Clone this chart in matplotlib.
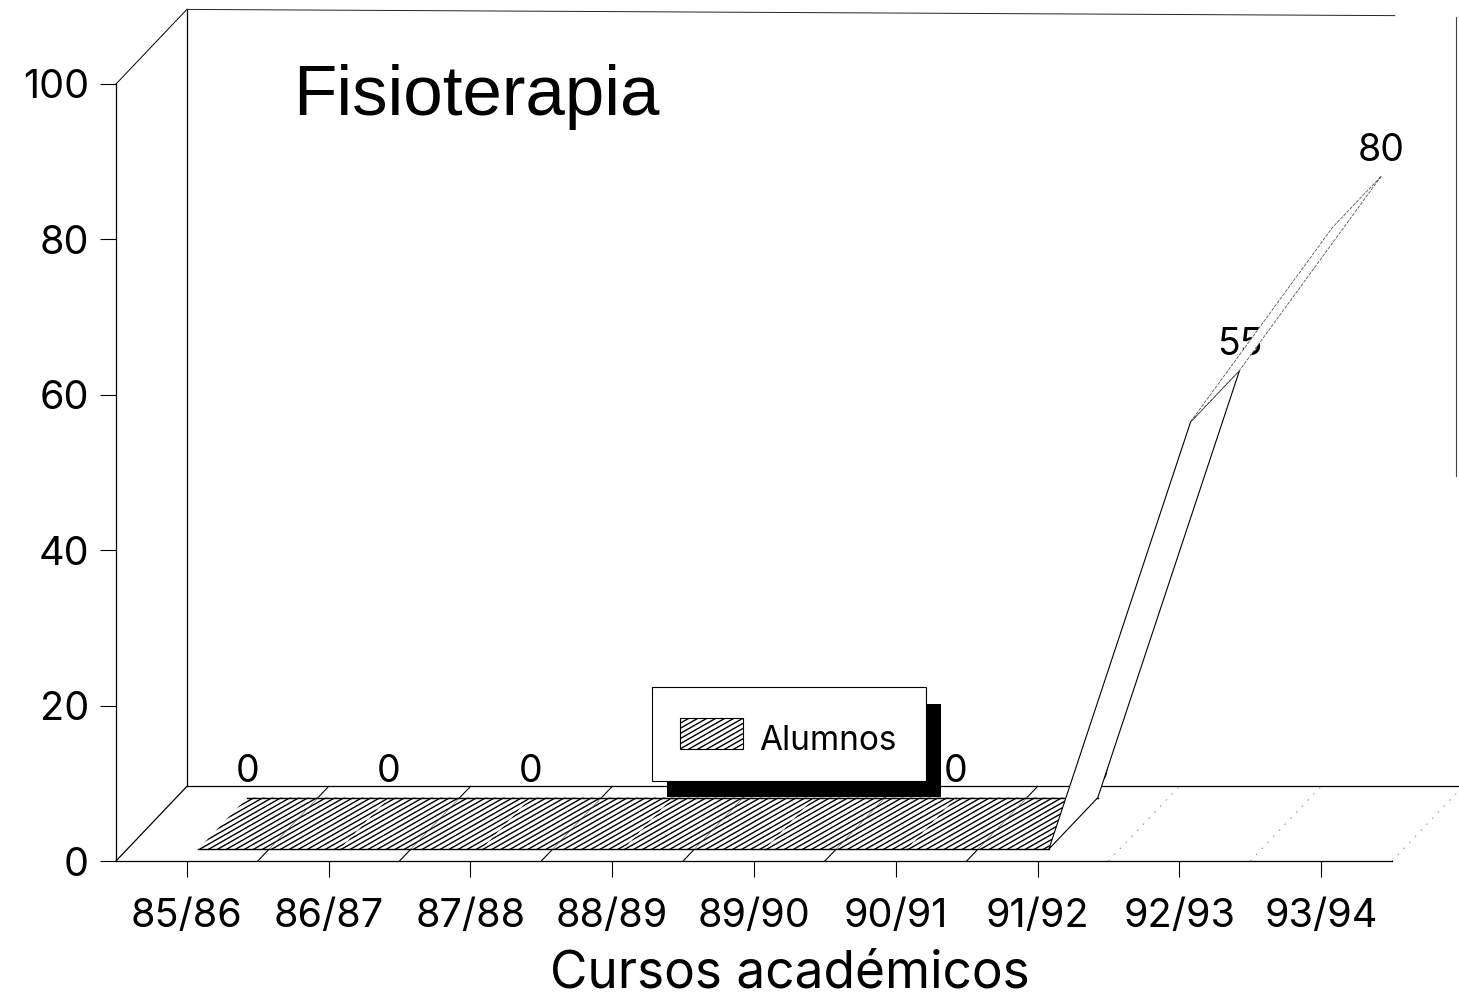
import numpy as np
import matplotlib
matplotlib.use("Agg")
import matplotlib.pyplot as plt
from matplotlib.collections import LineCollection
from matplotlib.patches import Polygon, Rectangle
from matplotlib.transforms import Affine2D, IdentityTransform

# values
cursos = ["85/86", "86/87", "87/88", "88/89", "89/90", "90/91", "91/92", "92/93", "93/94"]
alumnos = [0, 0, 0, 0, 0, 0, 0, 55, 80]
y_ticks = [0, 20, 40, 60, 80, 100]

W, H = 1459, 1001
plt.rcParams["font.family"] = ["Inter", "DejaVu Sans"]
fig = plt.figure(figsize=(W / 100, H / 100), dpi=100)
ax = fig.add_axes([116 / W, 1 - 861 / H, 1276 / W, 777 / H])
ax.set_xlim(0, 9)
ax.set_ylim(0, 100)
ax.patch.set_visible(False)

centres = np.arange(len(cursos)) + 0.5
ax.set_xticks(centres, cursos)
ax.set_yticks(y_ticks)
ax.tick_params(axis="x", length=11.5, width=0.8, pad=15, labelsize=28.5)
ax.tick_params(axis="y", length=11.5, width=0.8, pad=8, labelsize=28.5)
for s in ["top", "right"]:
    ax.spines[s].set_visible(False)
for s in ["left", "bottom"]:
    ax.spines[s].set_linewidth(0.9)
ax.set_xlabel("Cursos académicos", fontsize=37, va="baseline")
ax.xaxis.set_label_coords(0.528, -127 / 777)

# oblique depth of the fake 3d box, in data units
DX = 0.5
DY = 9.6


def oblique(x, y, d):
    return x + DX * d, y + DY * d


px = Affine2D().scale(1, -1).translate(0, H)  # picture pixels, y going down


def hatch(patch, step=9.0, slope=0.57, z=3):
    # shallow hatching, matplotlib's own hatch is fixed at 45 degrees
    verts = patch.get_transform().transform(patch.get_path().vertices)
    x0, y0 = verts.min(axis=0)
    x1, y1 = verts.max(axis=0)
    segs = []
    for off in np.arange(y0 - slope * (x1 - x0), y1 + step * slope, step * slope):
        segs.append([(x0, off), (x1, off + slope * (x1 - x0))])
    lc = LineCollection(segs, colors="black", linewidths=1.0, transform=IdentityTransform(), zorder=z)
    ax.add_collection(lc, autolim=False)
    lc.set_clip_path(patch)
    return lc


def line(p, q, **kw):
    kw.setdefault("color", "black")
    kw.setdefault("lw", 0.9)
    kw.setdefault("zorder", 1)
    ax.plot(*zip(p, q), clip_on=False, **kw)


# walls and floor, the scanned top line droops a little to the right
line(oblique(0, 0, 0), oblique(0, 0, 1))
line(oblique(0, 100, 0), oblique(0, 100, 1), lw=0.7)
line(oblique(0, 0, 1), oblique(0, 100, 1))
line(oblique(0, 100, 1), oblique(8.52, 99.2, 1), color="#222222", lw=0.7)
line(oblique(0, 0, 1), oblique(9, 0, 1))
line(oblique(8.95, 40, 1), oblique(8.95, 99, 1), color="#444444", lw=0.8)

D0, D1 = 0.16, 0.85  # the ribbon sits between these depths

for i in range(1, 10):
    if i < 7:
        line(oblique(i, 0, 0), oblique(i, 0, D0), lw=0.8)
        line(oblique(i, 0, D1), oblique(i, 0, 1), lw=0.8)
        line(oblique(i, 0, D0), oblique(i, 0, D1), color="#444444", lw=0.4, zorder=4)
    else:
        line(oblique(i, 0, 0), oblique(i, 0, 1), color="#888888", lw=0.6, ls=(0, (2, 8)))

# value labels, drawn under the ribbon so it hides the 91/92 zero and bites the 55
for c, v in zip(centres, alumnos):
    x, y = oblique(c, v, D1)
    ax.annotate(str(v), (x, y), xytext=(0, 21), textcoords="offset points", ha="center", va="center_baseline",
                fontsize=27, annotation_clip=False, zorder=2)

# ribbon
for i in range(len(alumnos) - 1):
    a, b = centres[i], centres[i + 1]
    va, vb = alumnos[i], alumnos[i + 1]
    poly = [oblique(a, va, D0), oblique(b, vb, D0), oblique(b, vb, D1), oblique(a, va, D1)]
    if va == vb:
        p = Polygon(poly, closed=True, facecolor="white", edgecolor="none", clip_on=False, zorder=3)
        ax.add_patch(p)
        hatch(p)
        line(poly[0], poly[1], lw=1.0, zorder=4)
        line(poly[3], poly[2], lw=1.0, zorder=4)
    elif va < 50:
        p = Polygon(poly, closed=True, facecolor="white", edgecolor="black", lw=0.8, clip_on=False, zorder=5)
        ax.add_patch(p)
    else:
        p = Polygon(poly, closed=True, facecolor="white", edgecolor="#555555", lw=0.6,
                    ls=(0, (4, 1.5)), clip_on=False, zorder=5)
        ax.add_patch(p)

ax.text(293 / W, 1 - 115 / H, "Fisioterapia", transform=fig.transFigure, family=["Liberation Sans"],
        fontsize=51, ha="left", va="baseline")

# legend box with its black shadow
shadow = Rectangle((667, 704), 274, 93, facecolor="black", edgecolor="none", transform=px, zorder=6)
box = Rectangle((652, 687), 274, 94, facecolor="white", edgecolor="black", lw=0.8, transform=px, zorder=7)
swatch = Rectangle((680, 718), 63, 31, facecolor="white", edgecolor="black", lw=0.8, transform=px, zorder=8)
for p in [shadow, box, swatch]:
    p.set_clip_on(False)
    ax.add_patch(p)
hatch(swatch, step=9.0, z=9)
ax.text(759, 741, "Alumnos", transform=px, fontsize=24, ha="left", va="center", zorder=9)

fig.savefig("out.png", dpi=100)
